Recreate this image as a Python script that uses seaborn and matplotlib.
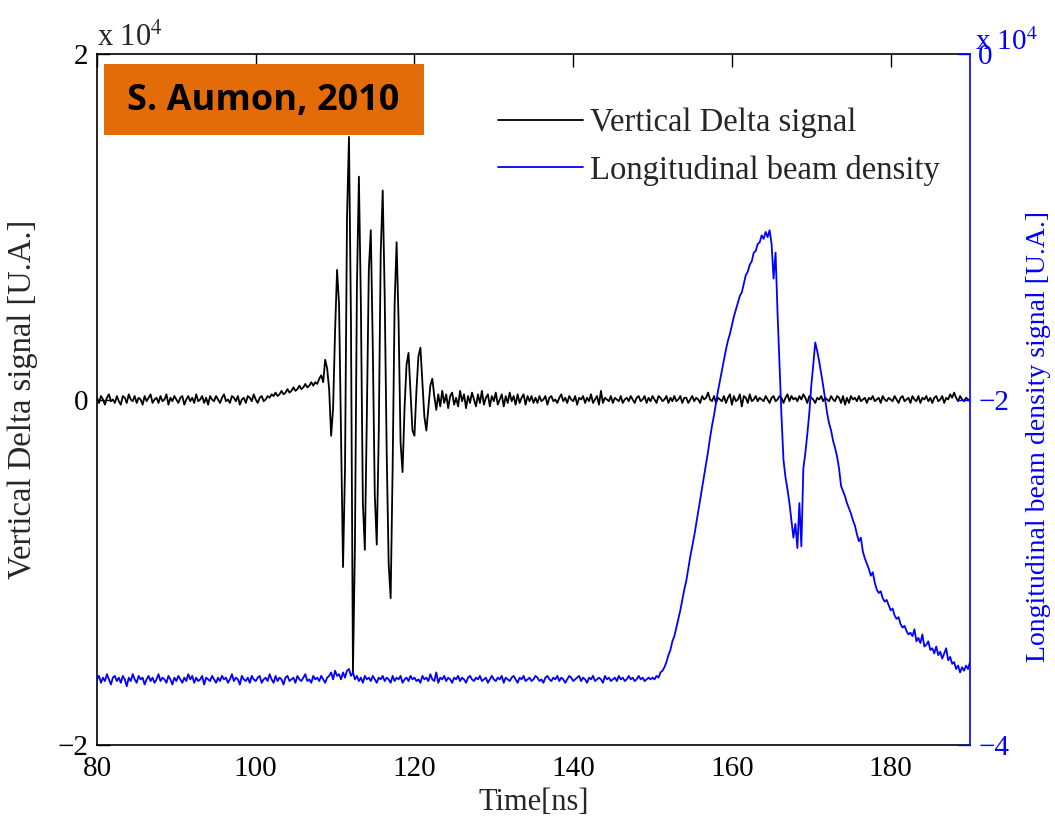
import numpy as np
import pandas as pd
import matplotlib
matplotlib.use("Agg")
import matplotlib.pyplot as plt
import seaborn as sns
from matplotlib.patches import Rectangle

# ---------------- data ----------------
# Vertical Delta signal, units of 1e4, sampled every 0.25 ns from 80 to 190 ns
delta = [
    0.01, -0.02, 0.02, 0.00, -0.03, 0.01, 0.03, -0.01, 0.00, -0.02,
    0.02, -0.01, -0.03, 0.02, 0.01, -0.02, 0.03, 0.00, -0.01, 0.02,
    -0.02, 0.01, 0.00, -0.03, 0.02, -0.01, 0.01, 0.03, -0.02, 0.00,
    0.01, -0.02, 0.02, -0.01, 0.00, 0.03, -0.03, 0.01, -0.01, 0.02,
    0.00, -0.02, 0.01, 0.02, -0.03, 0.00, 0.02, -0.01, 0.01, -0.02,
    0.03, -0.01, 0.00, 0.02, -0.02, 0.01, -0.03, 0.02, 0.00, -0.01,
    0.02, 0.00, -0.02, 0.01, 0.03, -0.01, 0.00, -0.02, 0.02, 0.01,
    -0.01, 0.02, -0.03, 0.00, 0.01, -0.02, 0.02, 0.01, -0.01, 0.03,
    0.00, -0.02, 0.01, 0.02, -0.01, 0.00, 0.02, 0.01, 0.03,
    # slow rise before the burst
    0.02, 0.04, 0.02, 0.03, 0.05, 0.03, 0.04, 0.06, 0.04, 0.05,
    0.07, 0.05, 0.06, 0.08, 0.06, 0.07, 0.09, 0.07, 0.08, 0.10,
    0.08, 0.10, 0.09, 0.12,
    # burst 108.25 .. 123 ns
    0.14, 0.10, 0.23, 0.18, 0.06, -0.21, -0.05, 0.40, 0.75, 0.55,
    -0.20, -0.97, -0.40, 1.05, 1.52, 0.45, -1.58, -0.85, 0.65, 1.29,
    0.55, -0.60, -0.87, -0.10, 0.75, 0.98, 0.30, -0.55, -0.84, -0.20,
    0.85, 1.21, 0.60, -0.30, -0.95, -1.15, -0.40, 0.55, 0.91, 0.45,
    -0.25, -0.42, -0.05, 0.20, 0.27, 0.05, -0.18, -0.21, 0.05, 0.25,
    0.30, 0.10, -0.10, -0.18, -0.05, 0.08, 0.12, 0.02, -0.06, 0.03,
    # ringing noise 123.25 .. 135 ns
    -0.04, 0.05, -0.02, 0.03, -0.05, 0.02, 0.04, -0.03, 0.01, -0.04,
    0.05, -0.01, 0.03, -0.05, 0.02, -0.02, 0.04, 0.00, -0.04, 0.03,
    -0.02, 0.05, -0.03, 0.01, 0.03, -0.04, 0.02, -0.01, 0.04, -0.03,
    0.00, 0.03, -0.04, 0.02, -0.02, 0.04, -0.01, 0.02, -0.03, 0.03,
    -0.02, 0.01, 0.03, -0.03, 0.02, -0.01, 0.02, -0.02,
    # quiet 135.25 .. 190 ns
    0.01, -0.02, 0.02, -0.01, 0.00, 0.02, -0.03, 0.01, 0.02, -0.01,
    0.00, -0.02, 0.01, 0.03, -0.01, 0.01, -0.02, 0.02, 0.00, -0.01,
    0.02, -0.03, 0.01, 0.00, 0.02, -0.02, 0.01, -0.01, 0.03, -0.02,
    0.00, 0.02, -0.03, 0.05, -0.02, 0.01, 0.00, -0.01, 0.02, -0.02,
    0.01, 0.00, -0.01, 0.02, -0.02, 0.00, 0.01, -0.01, 0.02, 0.00,
    -0.02, 0.01, 0.02, -0.01, 0.00, 0.02, -0.02, 0.01, -0.01, 0.02,
    0.00, -0.02, 0.02, 0.01, -0.01, 0.00, 0.02, -0.02, 0.01, -0.01,
    0.02, -0.01, 0.00, 0.02, -0.02, 0.01, 0.01, -0.02, 0.00, 0.02,
    -0.01, 0.01, 0.00, -0.02, 0.02, 0.00, 0.01, 0.04, 0.00, -0.01,
    0.02, -0.02, 0.01, 0.00, -0.01, 0.02, -0.02, 0.01, 0.03, -0.03,
    0.02, -0.01, 0.00, 0.03, -0.04, 0.02, 0.01, -0.02, 0.03, -0.01,
    0.00, 0.02, -0.01, 0.01, 0.00, -0.01, 0.02, 0.00, -0.02, 0.01,
    0.02, -0.01, 0.00, 0.02, 0.01, -0.02, 0.01, 0.03, -0.01, 0.02,
    0.00, 0.01, -0.01, 0.02, 0.00, 0.03, 0.01, -0.02, 0.02, 0.01,
    0.00, -0.02, 0.01, 0.00, 0.02, -0.01, 0.01, 0.00, -0.01, 0.02,
    0.00, -0.01, 0.02, 0.01, -0.02, 0.02, -0.03, 0.01, -0.02, 0.02,
    0.00, 0.01, -0.01, 0.02, -0.01, 0.00, 0.01, -0.02, 0.01, 0.00,
    0.02, -0.01, 0.00, 0.01, -0.02, 0.02, 0.00, -0.01, 0.01, 0.00,
    -0.01, 0.02, 0.00, -0.02, 0.01, 0.02, -0.01, 0.00, 0.01, -0.02,
    0.02, 0.00, -0.01, 0.02, -0.02, 0.01, 0.00, 0.02, -0.01, 0.01,
    -0.02, 0.01, 0.02, -0.01, 0.00, 0.02, -0.02, 0.01, 0.00, 0.03,
    0.01, 0.04, 0.01, -0.01, 0.02, 0.00, -0.01, 0.01, 0.00, -0.01,
]

# Longitudinal beam density signal, units of 1e4, sampled every 0.25 ns
density = [
    -3.62, -3.60, -3.64, -3.61, -3.63, -3.59, -3.62, -3.65, -3.61, -3.60,
    -3.63, -3.61, -3.64, -3.60, -3.62, -3.66, -3.61, -3.63, -3.59, -3.62,
    -3.64, -3.60, -3.62, -3.61, -3.65, -3.62, -3.60, -3.63, -3.61, -3.64,
    -3.62, -3.59, -3.63, -3.61, -3.62, -3.64, -3.60, -3.62, -3.65, -3.61,
    -3.63, -3.60, -3.62, -3.64, -3.61, -3.63, -3.59, -3.62, -3.60, -3.64,
    -3.61, -3.63, -3.62, -3.60, -3.65, -3.61, -3.62, -3.63, -3.60, -3.62,
    -3.64, -3.61, -3.63, -3.60, -3.62, -3.61, -3.64, -3.62, -3.59, -3.63,
    -3.61, -3.62, -3.65, -3.60, -3.62, -3.63, -3.61, -3.64, -3.60, -3.62,
    -3.63, -3.61, -3.60, -3.64, -3.62, -3.61, -3.63, -3.59, -3.62, -3.64,
    -3.60, -3.63, -3.61, -3.62, -3.65, -3.61, -3.60, -3.63, -3.62, -3.61,
    -3.64, -3.60, -3.62, -3.63, -3.61, -3.59, -3.63, -3.62, -3.64, -3.60,
    -3.62, -3.61, -3.63, -3.60, -3.62, -3.64, -3.61, -3.60, -3.58, -3.62,
    -3.57, -3.60, -3.59, -3.62, -3.58, -3.61, -3.57, -3.56, -3.60, -3.58,
    -3.62, -3.60, -3.63, -3.61, -3.64, -3.60, -3.62, -3.61, -3.63, -3.60,
    -3.62, -3.64, -3.61, -3.62, -3.60, -3.63, -3.61, -3.62, -3.64, -3.60,
    -3.63, -3.61, -3.62, -3.60, -3.64, -3.62, -3.61, -3.63, -3.60, -3.62,
    -3.61, -3.63, -3.62, -3.64, -3.60, -3.62, -3.61, -3.63, -3.59, -3.62,
    -3.63, -3.58, -3.64, -3.61, -3.62, -3.60, -3.63, -3.61, -3.62, -3.64,
    -3.61, -3.62, -3.60, -3.63, -3.61, -3.62, -3.64, -3.61, -3.60, -3.62,
    -3.63, -3.61, -3.62, -3.60, -3.63, -3.62, -3.61, -3.64, -3.62, -3.60,
    -3.62, -3.63, -3.61, -3.62, -3.60, -3.64, -3.61, -3.62, -3.63, -3.61,
    -3.60, -3.62, -3.64, -3.61, -3.62, -3.60, -3.63, -3.62, -3.61, -3.63,
    -3.62, -3.60, -3.61, -3.63, -3.62, -3.64, -3.61, -3.60, -3.62, -3.63,
    -3.61, -3.62, -3.60, -3.63, -3.61, -3.62, -3.64, -3.62, -3.60, -3.61,
    -3.63, -3.62, -3.61, -3.60, -3.63, -3.61, -3.62, -3.64, -3.61, -3.62,
    -3.60, -3.63, -3.62, -3.61, -3.62, -3.64, -3.60, -3.62, -3.61, -3.63,
    -3.62, -3.61, -3.63, -3.60, -3.62, -3.61, -3.63, -3.62, -3.60, -3.62,
    -3.61, -3.63, -3.62, -3.60, -3.62, -3.61, -3.63, -3.62, -3.61, -3.62,
    -3.61, -3.62,
    # rise, peaks and decay 150.5 .. 175 ns
    -3.60, -3.61, -3.58, -3.57, -3.55, -3.52, -3.48, -3.45, -3.40, -3.37,
    -3.32, -3.27, -3.22, -3.16, -3.10, -3.05, -2.98, -2.91, -2.85, -2.79,
    -2.72, -2.65, -2.58, -2.51, -2.44, -2.37, -2.30, -2.22, -2.15, -2.09,
    -2.02, -1.95, -1.89, -1.83, -1.77, -1.71, -1.66, -1.62, -1.57, -1.52,
    -1.48, -1.44, -1.40, -1.38, -1.33, -1.28, -1.26, -1.22, -1.20, -1.15,
    -1.14, -1.10, -1.09, -1.05, -1.07, -1.03, -1.06, -1.02, -1.10, -1.30,
    -1.15, -1.50, -1.80, -2.10, -2.35, -2.45, -2.52, -2.60, -2.70, -2.80,
    -2.72, -2.86, -2.60, -2.85, -2.40, -2.31, -2.20, -2.08, -1.92, -1.80,
    -1.67, -1.72, -1.78, -1.85, -1.92, -2.00, -2.08, -2.14, -2.18, -2.24,
    -2.28, -2.33, -2.40, -2.50, -2.53, -2.56, -2.60, -2.63, -2.66,
    # tail 175.25 .. 190 ns
    -2.70, -2.73, -2.78, -2.82, -2.80, -2.88, -2.92, -2.95, -2.98, -3.02,
    -3.00, -3.06, -3.10, -3.12, -3.11, -3.15, -3.17, -3.16, -3.19, -3.22,
    -3.21, -3.25, -3.27, -3.26, -3.30, -3.32, -3.31, -3.34, -3.36, -3.35,
    -3.37, -3.33, -3.40, -3.38, -3.41, -3.36, -3.43, -3.42, -3.40, -3.45,
    -3.44, -3.47, -3.43, -3.48, -3.46, -3.50, -3.47, -3.44, -3.51, -3.49,
    -3.53, -3.52, -3.56, -3.54, -3.58, -3.55, -3.57, -3.54, -3.56, -3.52,
]

x_ticks = [80, 100, 120, 140, 160, 180]
left_ticks = [-2, 0, 2]
right_ticks = [-4, -2, 0]
labels = ["Vertical Delta signal", "Longitudinal beam density"]

# ---------------- style ----------------
sns.set_style("white")
plt.rcParams['font.family'] = ['Liberation Serif', 'DejaVu Serif']
plt.rcParams['mathtext.fontset'] = 'stix'

t_delta = np.linspace(80, 190, len(delta))
t_density = np.linspace(80, 190, len(density))
df_delta = pd.DataFrame({"t": t_delta, "v": delta})
df_density = pd.DataFrame({"t": t_density, "v": density})

W, H = 1055, 816
fig = plt.figure(figsize=(W / 100, H / 100), dpi=100)
ax = fig.add_axes([97 / W, 71 / H, 873 / W, 691 / H])
ax2 = ax.twinx()

sns.lineplot(data=df_delta, x="t", y="v", ax=ax, color="black", lw=1.3,
             estimator=None, legend=False)
sns.lineplot(data=df_density, x="t", y="v", ax=ax2, color="blue", lw=1.3,
             estimator=None, legend=False)

ax.set_xlim(80, 190)
ax.set_ylim(-2, 2)
ax2.set_ylim(-4, 0)
ax.set_xticks(x_ticks)
ax.set_yticks(left_ticks)
ax2.set_yticks(right_ticks)

ax.tick_params(axis="both", direction="in", length=9, width=1, labelsize=21,
               top=True, right=False, colors="black")
ax.tick_params(axis="x", pad=8)
ax.tick_params(axis="y", pad=6)
ax2.tick_params(axis="y", direction="in", length=9, width=1, labelsize=21,
                colors="blue", pad=6)

for s in ["left", "bottom", "top"]:
    ax.spines[s].set_color("black")
    ax.spines[s].set_linewidth(1.2)
ax.spines["right"].set_visible(False)
for s in ["left", "bottom", "top"]:
    ax2.spines[s].set_visible(False)
ax2.spines["right"].set_color("blue")
ax2.spines["right"].set_linewidth(1.2)

ax.set_xlabel("Time[ns]", fontsize=22)
ax.xaxis.set_label_coords(0.5, -0.062)
ax.set_ylabel("Vertical Delta signal [U.A.]", fontsize=23.5)
ax.yaxis.set_label_coords(-0.068, 0.5)
ax2.set_ylabel("Longitudinal beam density signal [U.A.]", fontsize=20, color="blue")
ax2.yaxis.set_label_coords(1.064, 0.446)

fig.text(97 / W, 1 - 46 / H, r"x 10$^{4}$", fontsize=22, ha="left", va="baseline")
fig.text(975 / W, 1 - 50 / H, r"x 10$^{4}$", fontsize=21, ha="left", va="baseline",
         color="blue")

h1 = ax.lines[0]
h2 = ax2.lines[0]
ax2.legend([h1, h2], labels, loc="upper right", bbox_to_anchor=(0.9656, 0.922),
           frameon=False, fontsize=23.5, handlelength=2.6, handletextpad=0.22,
           labelspacing=0.5, borderpad=0, borderaxespad=0)

fig.add_artist(Rectangle((104 / W, 1 - 135 / H), 320 / W, 71 / H,
                         transform=fig.transFigure, facecolor="#E36C09",
                         edgecolor="none", zorder=10))
fig.text(263 / W, 1 - 101 / H, "S. Aumon, 2010", fontsize=26, fontweight="bold",
         family="Open Sans", ha="center", va="center", color="black", zorder=11)

fig.savefig("out.png", dpi=100)
